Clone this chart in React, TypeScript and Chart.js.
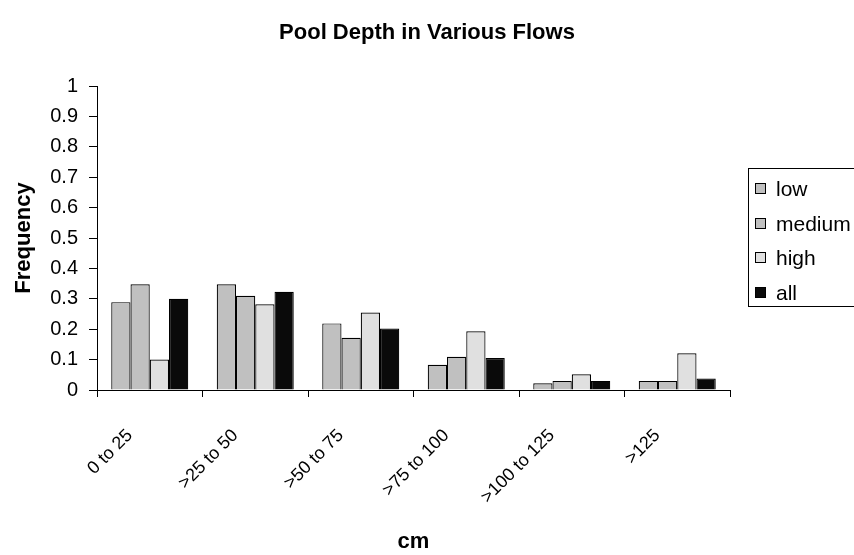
import React, { useEffect, useRef } from "react";
import { Chart, registerables } from "chart.js";

Chart.register(...registerables);

const categories = ["0 to 25", ">25 to 50", ">50 to 75", ">75 to 100", ">100 to 125", ">125"];
const seriesNames = ["low", "medium", "high", "all"];
const lowValues = [0.289, 0.348, 0.219, 0.083, 0.022, 0.03];
const mediumValues = [0.348, 0.31, 0.172, 0.109, 0.03, 0.03];
const highValues = [0.1, 0.282, 0.255, 0.193, 0.052, 0.121];
const allValues = [0.3, 0.323, 0.202, 0.105, 0.03, 0.038];
const seriesColors = ["#c0c0c0", "#c0c0c0", "#e0e0e0", "#0a0a0a"];
const yTicks = [0, 0.1, 0.2, 0.3, 0.4, 0.5, 0.6, 0.7, 0.8, 0.9, 1];

const FONT = "'Liberation Sans', Arial, Helvetica, sans-serif";

const legendPlugin = {
  id: "boxLegend",
  afterDraw(chart: any) {
    const ctx = chart.ctx;
    const ds = chart.data.datasets;
    ctx.save();
    const boxX = 748.5;
    const boxY = 168.5;
    const boxW = 120;
    const boxH = 138;
    ctx.strokeStyle = "#000";
    ctx.lineWidth = 1;
    ctx.strokeRect(boxX, boxY, boxW, boxH);
    ctx.font = `21px ${FONT}`;
    ctx.textBaseline = "middle";
    ctx.textAlign = "left";
    const rowStart = 189;
    const rowGap = 34.5;
    ds.forEach((d: any, i: number) => {
      const cy = Math.round(rowStart + i * rowGap);
      ctx.fillStyle = d.backgroundColor;
      ctx.fillRect(755.5, cy - 5.5, 10, 10);
      ctx.strokeStyle = "#000";
      ctx.strokeRect(755.5, cy - 5.5, 10, 10);
      ctx.fillStyle = "#000";
      ctx.fillText(d.label, 776, cy + 1);
    });
    ctx.restore();
  },
};

export default function App() {
  const ref = useRef<HTMLCanvasElement | null>(null);
  useEffect(() => {
    document.body.style.margin = "0";
    if (!ref.current) return;
    const values = [lowValues, mediumValues, highValues, allValues];
    const chart = new Chart(ref.current, {
      type: "bar",
      data: {
        labels: categories,
        datasets: seriesNames.map((name, i) => ({
          label: name,
          data: values[i],
          backgroundColor: seriesColors[i],
          borderColor: "#000",
          borderWidth: 1.2,
          categoryPercentage: 0.73,
          barPercentage: 1,
        })),
      },
      options: {
        animation: false,
        responsive: true,
        maintainAspectRatio: false,
        layout: { padding: 0 },
        plugins: {
          legend: { display: false },
          tooltip: { enabled: false },
          title: {
            display: true,
            text: "Pool Depth in Various Flows",
            color: "#000",
            font: { family: FONT, size: 22, weight: "bold" },
            padding: { top: 20, bottom: 39.6 },
          },
        },
        scales: {
          x: {
            grid: {
              display: true,
              drawOnChartArea: false,
              drawTicks: true,
              tickLength: 7,
              color: "#000",
              offset: true,
            },
            border: { display: true, color: "#000", width: 1 },
            ticks: {
              color: "#000",
              font: { family: FONT, size: 18 },
              minRotation: 45,
              maxRotation: 45,
              padding: 28,
              labelOffset: -20,
              autoSkip: false,
            },
            title: {
              display: true,
              text: "cm",
              color: "#000",
              font: { family: FONT, size: 22, weight: "bold" },
              padding: { top: 0, bottom: 0 },
            },
            afterFit: (scale: any) => {
              scale.height = 165;
            },
          },
          y: {
            min: 0,
            max: 1,
            afterBuildTicks: (scale: any) => {
              scale.ticks = yTicks.map((v) => ({ value: v }));
            },
            grid: {
              display: true,
              drawOnChartArea: false,
              drawTicks: true,
              tickLength: 8,
              color: "#000",
            },
            border: { display: true, color: "#000", width: 1 },
            ticks: {
              color: "#000",
              font: { family: FONT, size: 20 },
              padding: 11,
              callback: (v: any) => String(Math.round(Number(v) * 10) / 10),
            },
            title: {
              display: true,
              text: "Frequency",
              color: "#000",
              font: { family: FONT, size: 22, weight: "bold" },
              padding: { top: 11, bottom: 0 },
            },
            afterFit: (scale: any) => {
              scale.width = 97;
            },
          },
          spacer: {
            type: "linear",
            position: "right",
            display: true,
            grid: { display: false },
            border: { display: false },
            ticks: { display: false },
            afterFit: (scale: any) => {
              scale.width = 124;
            },
          },
        },
      },
      plugins: [legendPlugin],
    } as any);
    return () => chart.destroy();
  }, []);
  return (
    <div style={{ position: "relative", width: 854, height: 555, background: "#fff" }}>
      <canvas ref={ref} />
    </div>
  );
}
